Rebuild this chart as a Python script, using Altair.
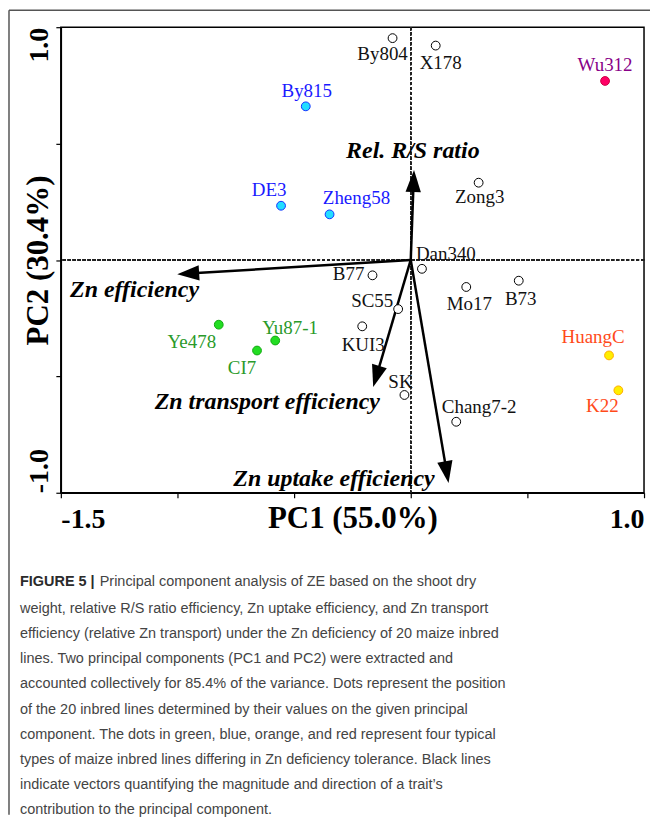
import math
import altair as alt
import pandas as pd

# ---------------- data ----------------
lines = ["By804", "X178", "Wu312", "By815", "DE3", "Zheng58", "Zong3", "Dan340",
         "B77", "SC55", "KUI3", "SK", "Chang7-2", "Mo17", "B73", "HuangC", "K22",
         "Ye478", "Yu87-1", "CI7"]
pc1 = [-0.078, 0.107, 0.833, -0.450, -0.556, -0.348, 0.291, 0.048,
       -0.164, -0.054, -0.208, -0.027, 0.195, 0.238, 0.463, 0.850, 0.890,
       -0.823, -0.581, -0.659]
pc2 = [0.953, 0.921, 0.769, 0.660, 0.233, 0.196, 0.332, -0.038,
       -0.066, -0.211, -0.285, -0.580, -0.695, -0.116, -0.089, -0.410, -0.560,
       -0.278, -0.346, -0.389]
groups = ["other", "other", "red", "blue", "blue", "blue", "other", "other",
          "other", "other", "other", "other", "other", "other", "other", "orange", "orange",
          "green", "green", "green"]

vec_names = ["Rel. R/S ratio", "Zn efficiency", "Zn transport efficiency", "Zn uptake efficiency"]
vec_pc1 = [0.014, -1.001, -0.161, 0.162]
vec_pc2 = [0.386, -0.061, -0.546, -0.958]
vec_label_pc1 = [0.009, -1.184, -0.615, -0.329]
vec_label_pc2 = [0.469, -0.131, -0.610, -0.940]

x_ticks = [-1.5, -1.0, -0.5, 0.0, 0.5, 1.0]
y_ticks = [-1.0, -0.5, 0.0, 0.5, 1.0]

caption_lead = "FIGURE 5 |"
caption_lines = [
    "Principal component analysis of ZE based on the shoot dry",
    "weight, relative R/S ratio efficiency, Zn uptake efficiency, and Zn transport",
    "efficiency (relative Zn transport) under the Zn deficiency of 20 maize inbred",
    "lines. Two principal components (PC1 and PC2) were extracted and",
    "accounted collectively for 85.4% of the variance. Dots represent the position",
    "of the 20 inbred lines determined by their values on the given principal",
    "component. The dots in green, blue, orange, and red represent four typical",
    "types of maize inbred lines differing in Zn deficiency tolerance. Black lines",
    "indicate vectors quantifying the magnitude and direction of a trait\u2019s",
    "contribution to the principal component.",
]

# ---------------- layout / style ----------------
W, H = 585, 467
XMIN, XMAX, YMIN, YMAX = -1.5, 1.0, -1.0, 1.0
PX = W / (XMAX - XMIN)
PY = H / (YMAX - YMIN)

# label offsets in pixels (right, down) relative to each dot
lab_dx = [-10, 5, 0, 1, -12, 27, 1, 24, -24, -26, 1, -4, 23, 3, 2, -16, -16, -27, 15, -15]
lab_dy = [16, 17, -16, -15, -16, -16, 14, -15, -1, -8, 19, -13, -15, 17, 18, -18, 16, 17, -13, 18]

grp_domain = ["other", "green", "blue", "orange", "red"]
fill_range = ["#ffffff", "#22dd22", "#22ddff", "#ffee00", "#ff0066"]
stroke_range = ["#000000", "#12a812", "#1133ff", "#ffaa00", "#cc0044"]
label_range = ["#111111", "#2a9a2a", "#1a1aff", "#ff4a1a", "#880088"]

SERIF = "Liberation Serif"
SANS = "Liberation Sans, Arial"
CAP_SIZE = 14.5

pts = pd.DataFrame({"name": lines, "x": pc1, "y": pc2, "group": groups})
pts["lx"] = pts["x"] + pd.Series(lab_dx) / PX
pts["ly"] = pts["y"] - pd.Series(lab_dy) / PY

HEAD = 11  # half length of arrow head in px
rows = []
for n, vx, vy, lx, ly in zip(vec_names, vec_pc1, vec_pc2, vec_label_pc1, vec_label_pc2):
    px, py = vx * PX, vy * PY
    L = math.hypot(px, py)
    ux, uy = px / L, py / L
    rows.append(dict(name=n, x=0.0, y=0.0, tx=vx, ty=vy,
                     hx=vx - ux * HEAD / PX, hy=vy - uy * HEAD / PY,
                     angle=math.degrees(math.atan2(ux, uy)) % 360,
                     lx=lx, ly=ly))
vec = pd.DataFrame(rows)

xs = alt.Scale(domain=[XMIN, XMAX], nice=False, zero=False)
ys = alt.Scale(domain=[YMIN, YMAX], nice=False, zero=False)

xaxis = alt.Axis(
    values=x_ticks,
    labelExpr="datum.value == -1.5 ? '-1.5' : datum.value == 1 ? '1.0' : ''",
    labelFont=SERIF, labelFontWeight="bold", labelFontSize=28, labelColor="black",
    labelBaseline="alphabetic", labelPadding=30, labelFlush=True, labelOverlap=False,
    tickSize=5, tickColor="black", tickWidth=1.2,
    domainColor="black", domainWidth=1.5, grid=False,
    title="PC1 (55.0%)", titleFont=SERIF, titleFontSize=31, titleFontWeight="bold",
    titleColor="black", titleY=35, titleBaseline="alphabetic",
)
yaxis = alt.Axis(
    values=y_ticks,
    labelExpr="datum.value == 1 ? '1.0' : datum.value == -1 ? '-1.0' : ''",
    labelAngle=270,
    labelAlign={"condition": {"test": "datum.value > 0", "value": "right"}, "value": "left"},
    labelFont=SERIF, labelFontWeight="bold", labelFontSize=28, labelColor="black",
    labelBaseline="alphabetic", labelPadding=8, labelOverlap=False,
    tickSize=5, tickColor="black", tickWidth=1.2,
    domainColor="black", domainWidth=1.5, grid=False,
    title="PC2 (30.4%)", titleFont=SERIF, titleFontSize=31, titleFontWeight="bold",
    titleColor="black", titleAngle=270, titleX=-13, titleY=H / 2,
    titleAlign="center", titleBaseline="alphabetic",
)


def X(f):
    return alt.X(f, type="quantitative", scale=xs, axis=xaxis)


def Y(f):
    return alt.Y(f, type="quantitative", scale=ys, axis=yaxis)


vline = alt.Chart(pts).mark_rule(strokeDash=[3, 2], strokeWidth=1, color="#222").encode(
    x=alt.datum(0, type="quantitative", scale=xs))
hline = alt.Chart(pts).mark_rule(strokeDash=[3, 2], strokeWidth=1, color="#222").encode(
    y=alt.datum(0, type="quantitative", scale=ys))

shafts = alt.Chart(vec).mark_rule(color="black", strokeWidth=2.5).encode(
    x=X("x"), y=Y("y"), x2="hx", y2="hy")
heads = alt.Chart(vec).mark_point(
    shape="M0,-1L-0.7,1L0.7,1Z", filled=True, size=484, color="black", opacity=1
).encode(x=X("hx"), y=Y("hy"), angle=alt.Angle("angle:Q", scale=None))
vec_labels = alt.Chart(vec).mark_text(
    font=SERIF, fontSize=24, fontWeight="bold", fontStyle="italic",
    align="center", baseline="middle", color="black"
).encode(x=X("lx"), y=Y("ly"), text="name")

dots = alt.Chart(pts).mark_circle(size=78, strokeWidth=1.0, opacity=1).encode(
    x=X("x"), y=Y("y"),
    fill=alt.Fill("group:N", scale=alt.Scale(domain=grp_domain, range=fill_range), legend=None),
    stroke=alt.Stroke("group:N", scale=alt.Scale(domain=grp_domain, range=stroke_range), legend=None),
)
dot_labels = alt.Chart(pts).mark_text(font=SERIF, fontSize=19, align="center", baseline="middle").encode(
    x=X("lx"), y=Y("ly"), text="name",
    color=alt.Color("group:N", scale=alt.Scale(domain=grp_domain, range=label_range), legend=None),
)

# outer frame and caption
frame_top = alt.Chart().mark_rule(color="#555", strokeWidth=1.5).encode(
    x=alt.value(-52), x2=alt.value(591), y=alt.value(-17))
frame_left = alt.Chart().mark_rule(color="#555", strokeWidth=1.5).encode(
    x=alt.value(-52), y=alt.value(-17), y2=alt.value(790))
cap_lead = alt.Chart().mark_text(font=SANS, fontSize=CAP_SIZE, fontWeight="bold", color="#2b2b2b",
                                 align="left", baseline="alphabetic").encode(
    x=alt.value(-41), y=alt.value(561), text=alt.value(caption_lead))
cap_first = alt.Chart().mark_text(font=SANS, fontSize=CAP_SIZE, color="#444444",
                                  align="left", baseline="alphabetic").encode(
    x=alt.value(39), y=alt.value(561), text=alt.value(caption_lines[0]))
cap_body = alt.Chart().mark_text(font=SANS, fontSize=CAP_SIZE, color="#444444", lineHeight=25.2,
                                 align="left", baseline="alphabetic").encode(
    x=alt.value(-41), y=alt.value(587.7), text=alt.value(caption_lines[1:]))

chart = alt.layer(
    hline, vline, shafts, heads, dots, dot_labels, vec_labels,
    frame_top, frame_left, cap_lead, cap_first, cap_body,
).properties(width=W, height=H, padding=0).configure_view(
    stroke="black", strokeWidth=1.5
)

chart.save("out.html", embed_options={"renderer": "svg", "actions": False})
